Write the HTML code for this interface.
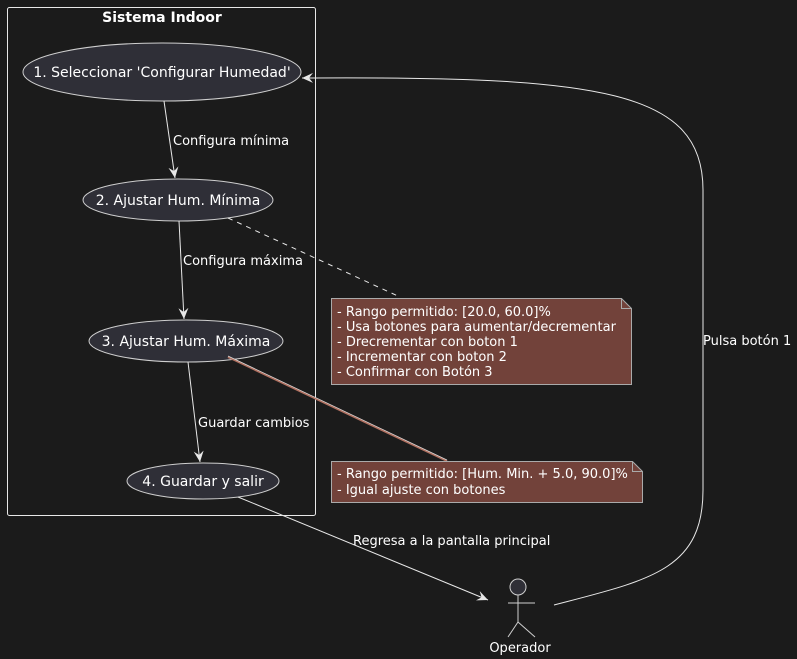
<!DOCTYPE html>
<html><head><meta charset="utf-8"><style>
html,body{margin:0;padding:0;background:#1b1b1b;}
svg{display:block;font-family:"DejaVu Sans","Liberation Sans",sans-serif;}
</style></head><body>
<svg width="797" height="659" viewBox="0 0 797 659" xmlns="http://www.w3.org/2000/svg">
<defs>
<marker id="a" viewBox="0 0 12 10" refX="11" refY="5" markerWidth="12" markerHeight="10" orient="auto" markerUnits="userSpaceOnUse">
<path d="M0,0 L11,5 L0,10 L4,5 Z" fill="#e8e8e8"/>
</marker>
</defs>
<rect x="0" y="0" width="797" height="659" fill="#1b1b1b"/>
<rect x="7.5" y="7.5" width="308" height="508" rx="2" fill="none" stroke="#e8e8e8" stroke-width="1"/>
<text x="162" y="22" font-size="14" font-weight="bold" fill="#ffffff" text-anchor="middle">Sistema Indoor</text>

<ellipse cx="162" cy="72" rx="139" ry="29" fill="#2f2f37" stroke="#cfcfcf"/>
<text x="162" y="77" font-size="14" fill="#ffffff" text-anchor="middle">1. Seleccionar 'Configurar Humedad'</text>
<ellipse cx="178" cy="200" rx="95" ry="21" fill="#2f2f37" stroke="#cfcfcf"/>
<text x="178" y="205" font-size="14" fill="#ffffff" text-anchor="middle">2. Ajustar Hum. Mínima</text>
<ellipse cx="186" cy="341" rx="97" ry="21" fill="#2f2f37" stroke="#cfcfcf"/>
<text x="186" y="346" font-size="14" fill="#ffffff" text-anchor="middle">3. Ajustar Hum. Máxima</text>
<ellipse cx="203" cy="481" rx="76" ry="18" fill="#2f2f37" stroke="#cfcfcf"/>
<text x="203" y="486" font-size="14" fill="#ffffff" text-anchor="middle">4. Guardar y salir</text>

<line x1="164" y1="101" x2="175" y2="178" stroke="#e8e8e8" marker-end="url(#a)"/>
<text x="173" y="145" font-size="13" fill="#ffffff">Configura mínima</text>
<line x1="179" y1="221" x2="184" y2="319" stroke="#e8e8e8" marker-end="url(#a)"/>
<text x="183" y="265" font-size="13" fill="#ffffff">Configura máxima</text>
<line x1="188" y1="362" x2="200" y2="462" stroke="#e8e8e8" marker-end="url(#a)"/>
<text x="198" y="427" font-size="13" fill="#ffffff">Guardar cambios</text>

<line x1="228" y1="218" x2="400" y2="297" stroke="#e8e8e8" stroke-dasharray="5,5"/>
<line x1="228" y1="357" x2="447" y2="461" stroke="#b07060" stroke-width="2"/>
<line x1="228" y1="356" x2="447" y2="460" stroke="#d8d8d8" stroke-width="0.7"/>

<path d="M331.5,298.5 H621.5 L631.5,308.5 V384.5 H331.5 Z" fill="#72423a" stroke="#aaaaaa"/>
<path d="M621.5,298.5 V308.5 H631.5" fill="none" stroke="#aaaaaa"/>
<g font-size="13" fill="#ffffff">
<text x="337" y="316">- Rango permitido: [20.0, 60.0]%</text>
<text x="337" y="331">- Usa botones para aumentar/decrementar</text>
<text x="337" y="346">- Drecrementar con boton 1</text>
<text x="337" y="361">- Incrementar con boton 2</text>
<text x="337" y="376">- Confirmar con Botón 3</text>
</g>
<path d="M331.5,461.5 H632.5 L642.5,471.5 V502.5 H331.5 Z" fill="#72423a" stroke="#aaaaaa"/>
<path d="M632.5,461.5 V471.5 H642.5" fill="none" stroke="#aaaaaa"/>
<g font-size="13" fill="#ffffff">
<text x="337" y="478">- Rango permitido: [Hum. Min. + 5.0, 90.0]%</text>
<text x="337" y="494">- Igual ajuste con botones</text>
</g>

<line x1="238" y1="497" x2="488" y2="600" stroke="#e8e8e8" marker-end="url(#a)"/>
<text x="353" y="545" font-size="13" fill="#ffffff">Regresa a la pantalla principal</text>

<path d="M554,605 C650,580 703,570 703,490 L703,190 C703,90 600,76 302,78" fill="none" stroke="#e8e8e8" marker-end="url(#a)"/>
<text x="703" y="345" font-size="13" fill="#ffffff">Pulsa botón 1</text>

<circle cx="518" cy="587" r="8" fill="#2f2f37" stroke="#cfcfcf"/>
<line x1="518" y1="595" x2="518" y2="622" stroke="#cfcfcf"/>
<line x1="508" y1="603" x2="535" y2="603" stroke="#cfcfcf"/>
<line x1="518" y1="622" x2="508" y2="637" stroke="#cfcfcf"/>
<line x1="518" y1="622" x2="535" y2="637" stroke="#cfcfcf"/>
<text x="520" y="652" font-size="13" fill="#ffffff" text-anchor="middle">Operador</text>
</svg>
</body></html>
